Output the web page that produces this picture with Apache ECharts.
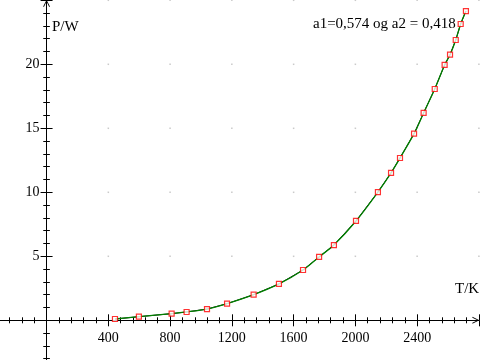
<!DOCTYPE html>
<html>
<head>
<meta charset="utf-8">
<script src="https://cdn.jsdelivr.net/npm/echarts@6/dist/echarts.min.js"></script>
<style>
  html, body {margin: 0; padding: 0; background: #fff;}
  #chart {width: 480px; height: 360px;}
</style>
</head>
<body>
<div id="chart"></div>
<script>
// målinger, T i K og P i W
let temps = [443, 598, 810, 907, 1039, 1169, 1341, 1505, 1661, 1765, 1861, 2004,
  2146, 2231, 2289, 2380, 2442, 2514, 2578, 2613, 2650, 2682, 2716]
let powers = [0.10, 0.28, 0.52, 0.65, 0.88, 1.30, 2.00, 2.84, 3.93, 4.95, 5.88, 7.76,
  10.02, 11.52, 12.68, 14.58, 16.20, 18.07, 19.95, 20.75, 21.90, 23.15, 24.16]

// akse-etiketter
let xLabels = [400, 800, 1200, 1600, 2000, 2400]
let yLabels = [5, 10, 15, 20]
// prikker i rutenettet
let xGridVals = [400, 800, 1200, 1600, 2000, 2400, 2800]
let yGridVals = [5, 10, 15, 20, 25]

let fitText = 'a1=0,574 og a2 = 0,418'
let serif = 'Liberation Serif'
let arrow = 'path://M0,10 L5,0 L10,10 L8.6,10 L5,2.6 L1.4,10 Z'
let xMin = -400, xMax = 2800, yMin = -5, yMax = 25

let points = temps.map((t, i) => [t, powers[i]])
let gridDots = []
xGridVals.forEach(x => { yGridVals.forEach(y => { gridDots.push([x, y]) }) })

function xAxisBas(pos, ext){
  return Object.assign({
    type: 'value', min: xMin, max: xMax, interval: 400, position: pos, offset: 0,
    axisLine: {onZero: false, lineStyle: {color: '#000', width: 1}},
    axisTick: {length: 6, lineStyle: {color: '#000', width: 1}},
    minorTick: {show: true, splitNumber: 5, length: 3, lineStyle: {color: '#000', width: 1}},
    axisLabel: {show: false},
    splitLine: {show: false}
  }, ext)
}
function yAxisBas(pos, ext){
  return Object.assign({
    type: 'value', min: yMin, max: yMax, interval: 5, position: pos, offset: 0,
    axisLine: {onZero: false, lineStyle: {color: '#000', width: 1}},
    axisTick: {length: 6, lineStyle: {color: '#000', width: 1}},
    minorTick: {show: true, splitNumber: 5, length: 3.3, lineStyle: {color: '#000', width: 1}},
    axisLabel: {show: false},
    splitLine: {show: false}
  }, ext)
}

let option = {
  animation: false,
  backgroundColor: '#fff',
  grid: {left: -15.2, right: 1.1, top: 0.3, bottom: -24.3, containLabel: false, outerBoundsMode: 'none'},
  xAxis: [
    xAxisBas('bottom', {
      axisLine: {onZero: false, lineStyle: {color: '#000', width: 1},
        symbol: ['none', arrow], symbolSize: [10, 7], symbolOffset: [0, -3]},
      axisLabel: {
        show: true, margin: 11, fontSize: 14, fontFamily: serif, color: '#000',
        formatter: v => xLabels.indexOf(v) >= 0 ? String(v) : ''
      }
    }),
    xAxisBas('top')
  ],
  yAxis: [
    yAxisBas('left', {
      axisLine: {onZero: false, lineStyle: {color: '#000', width: 1},
        symbol: ['none', arrow], symbolSize: [10, 7], symbolOffset: [0, -3]},
      axisLabel: {
        show: true, margin: 7, fontSize: 14, fontFamily: serif, color: '#000',
        formatter: v => yLabels.indexOf(v) >= 0 ? String(v) : ''
      }
    }),
    yAxisBas('right')
  ],
  graphic: [
    {type: 'text', left: 52, top: 20, style: {text: 'P/W', font: '15px ' + serif, fill: '#000'}},
    {type: 'text', left: 455, top: 282, style: {text: 'T/K', font: '15px ' + serif, fill: '#000'}},
    {type: 'text', left: 313, top: 17, style: {text: fitText, font: '15px ' + serif, fill: '#000'}}
  ],
  series: [
    { // prikker
      type: 'scatter', data: gridDots, symbol: 'rect', symbolSize: 1.5,
      itemStyle: {color: '#bdbdbd'}, silent: true, z: 1
    },
    { // målte punkter forbundet
      type: 'line', data: points, showSymbol: false, symbol: 'none',
      lineStyle: {color: '#000', width: 1}, z: 2
    },
    { // tilpasset kurve
      type: 'line', data: points, smooth: 0.3, showSymbol: false, symbol: 'none',
      lineStyle: {color: '#008000', width: 1.3}, z: 3
    },
    {
      type: 'scatter', data: points, symbol: 'rect', symbolSize: 5,
      itemStyle: {color: '#fff', borderColor: '#ff0000', borderWidth: 1.2}, z: 4
    }
  ]
}

let myChart = echarts.init(document.getElementById('chart'), null, {renderer: 'canvas'})
myChart.setOption(option)

//flytt aksene til origo (begge sider får tikker)
let o = myChart.convertToPixel({gridIndex: 0}, [0, 0])
let lo = myChart.convertToPixel({gridIndex: 0}, [xMin, yMin])
let hi = myChart.convertToPixel({gridIndex: 0}, [xMax, yMax])
myChart.setOption({
  xAxis: [{offset: o[1] - lo[1]}, {offset: hi[1] - o[1]}],
  yAxis: [{offset: lo[0] - o[0]}, {offset: o[0] - hi[0]}]
})
</script>
</body>
</html>
